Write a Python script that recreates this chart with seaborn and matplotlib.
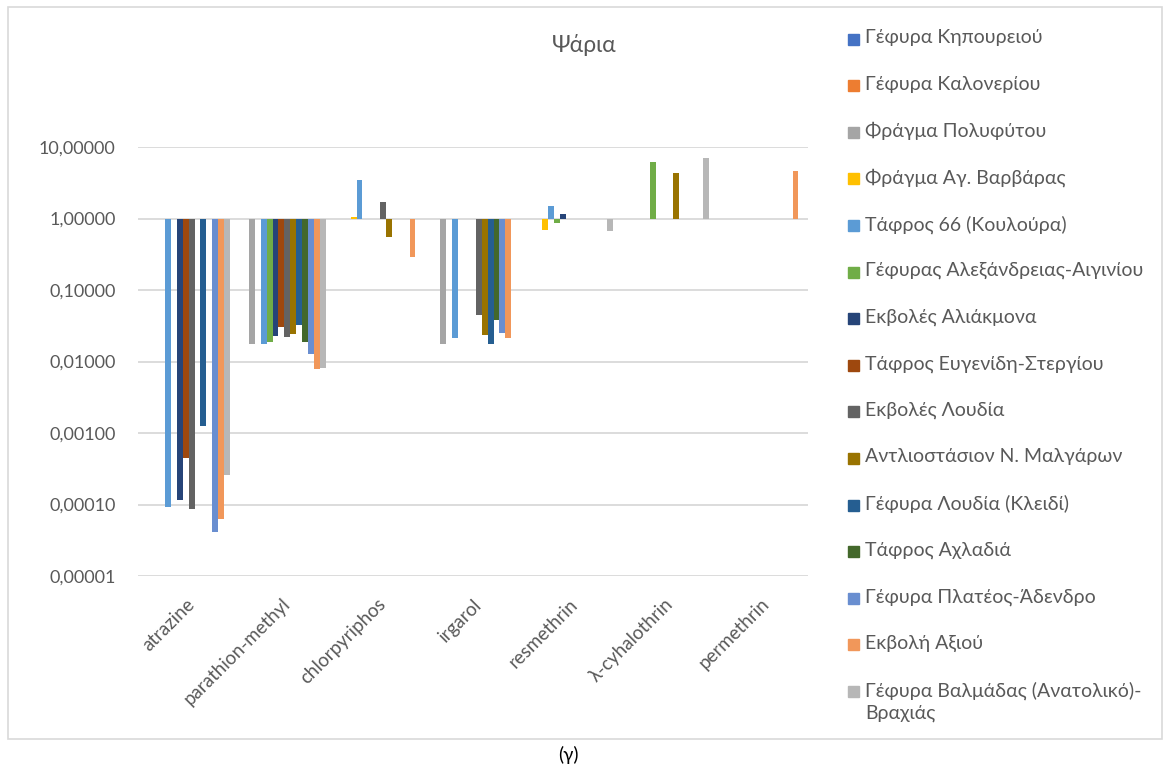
import numpy as np
import pandas as pd
import matplotlib
matplotlib.use("Agg")
import matplotlib.pyplot as plt
from matplotlib.patches import Rectangle
from matplotlib.ticker import NullLocator
import seaborn as sns

# ---- data -------------------------------------------------------------
pesticides = ["atrazine", "parathion-methyl", "chlorpyriphos", "irgarol",
              "resmethrin", "λ-cyhalothrin", "permethrin"]

stations = [
    "Γέφυρα Κηπουρειού",
    "Γέφυρα Καλονερίου",
    "Φράγμα Πολυφύτου",
    "Φράγμα Αγ. Βαρβάρας",
    "Τάφρος 66 (Κουλούρα)",
    "Γέφυρας Αλεξάνδρειας-Αιγινίου",
    "Εκβολές Αλιάκμονα",
    "Τάφρος Ευγενίδη-Στεργίου",
    "Εκβολές Λουδία",
    "Αντλιοστάσιον Ν. Μαλγάρων",
    "Γέφυρα Λουδία (Κλειδί)",
    "Τάφρος Αχλαδιά",
    "Γέφυρα Πλατέος-Άδενδρο",
    "Εκβολή Αξιού",
    "Γέφυρα Βαλμάδας (Ανατολικό)-\nΒραχιάς",
]

nan = np.nan
# one list per station, in the order of `pesticides` (nan = not detected)
kipoureio     = [nan,      nan,    nan,   nan,    nan,   nan,  nan]
kaloneri      = [nan,      nan,    nan,   nan,    nan,   nan,  nan]
polyfyto      = [nan,      0.0178, nan,   0.0175, nan,   nan,  nan]
ag_varvara    = [nan,      nan,    1.05,  nan,    0.69,  nan,  nan]
tafros_66     = [0.000093, 0.0175, 3.40,  0.0216, 1.51,  nan,  nan]
alexandreia   = [nan,      0.0188, nan,   nan,    0.875, 6.20, nan]
aliakmonas    = [0.000115, 0.0226, nan,   nan,    1.16,  nan,  nan]
evgenidi      = [0.00044,  0.0300, nan,   nan,    nan,   nan,  nan]
ekv_loudia    = [0.000087, 0.0220, 1.69,  0.0447, nan,   nan,  nan]
malgara       = [nan,      0.0240, 0.556, 0.0233, nan,   4.30, nan]
gef_loudia    = [0.00126,  0.0320, nan,   0.0175, nan,   nan,  nan]
achladia      = [nan,      0.0185, nan,   0.0380, nan,   nan,  nan]
plateos       = [0.000041, 0.0126, nan,   0.0250, nan,   nan,  nan]
axios         = [0.000063, 0.0078, 0.29,  0.0216, nan,   nan,  4.60]
valmada       = [0.00026,  0.0080, nan,   nan,    0.66,  6.97, nan]

station_values = [kipoureio, kaloneri, polyfyto, ag_varvara, tafros_66,
                  alexandreia, aliakmonas, evgenidi, ekv_loudia, malgara,
                  gef_loudia, achladia, plateos, axios, valmada]

y_ticks = [10, 1, 0.1, 0.01, 0.001, 0.0001, 0.00001]
y_tick_labels = ["10,00000", "1,00000", "0,10000", "0,01000",
                 "0,00100", "0,00010", "0,00001"]

colors = ["#4472C4", "#ED7D31", "#A5A5A5", "#FFC000", "#5B9BD5",
          "#70AD47", "#264478", "#9E480E", "#636363", "#997300",
          "#255E91", "#43682B", "#698ED0", "#F1975A", "#B7B7B7"]

# ---- long table -------------------------------------------------------
rows = []
for st, vals in zip(stations, station_values):
    for pest, v in zip(pesticides, vals):
        rows.append({"pesticide": pest, "station": st, "value": v})
df = pd.DataFrame(rows).dropna()

# ---- figure -----------------------------------------------------------
sns.set_theme(style="white")
plt.rcParams["font.family"] = ["Lato", "Noto Sans", "DejaVu Sans"]
text_grey = "#595959"

W, H = 1163, 773
fig = plt.figure(figsize=(W / 100, H / 100), dpi=100)
ax_l, ax_r, ax_t, ax_b = 137.8, 808.0, 147.0, 576.0
ax = fig.add_axes([ax_l / W, 1 - ax_b / H, (ax_r - ax_l) / W, (ax_b - ax_t) / H])

sns.barplot(data=df, x="pesticide", y="value", hue="station",
            order=pesticides, hue_order=stations, palette=colors,
            saturation=1, width=0.924, gap=0, errorbar=None,
            legend=False, ax=ax)

# bars on a log axis grow from 1 (upwards above 1, downwards below it)
for cont in ax.containers:
    for bar in cont:
        v = bar.get_height()
        if not np.isfinite(v):
            continue
        bar.set_y(min(v, 1.0))
        bar.set_height(abs(v - 1.0))
        bar.set_edgecolor("none")

ax.set_yscale("log")
ax.set_ylim(1e-5, 10)
ax.set_xlim(-0.5, len(pesticides) - 0.5)
ax.set_yticks(y_ticks)
ax.set_yticklabels(y_tick_labels)
ax.yaxis.set_minor_locator(NullLocator())
ax.set_xlabel("")
ax.set_ylabel("")
ax.yaxis.grid(True, color="#D9D9D9", lw=1.3)
ax.xaxis.grid(False)
ax.set_axisbelow(True)
for s in ax.spines.values():
    s.set_visible(False)
ax.tick_params(axis="y", length=0, pad=16, labelsize=13, labelcolor=text_grey)
ax.tick_params(axis="x", length=0, pad=14, labelsize=13.5, labelcolor=text_grey)
for lab in ax.get_xticklabels():
    lab.set_rotation(45)
    lab.set_ha("right")
    lab.set_va("top")
    lab.set_rotation_mode("anchor")

# title
fig.text(584 / W, 1 - 45 / H, "Ψάρια", ha="center", va="center",
         fontsize=16.5, color=text_grey)

# legend
leg_x_box = 848
leg_box = 11
for i, (st, c) in enumerate(zip(stations, colors)):
    yc = 39 + 46.6 * i
    fig.patches.append(Rectangle((leg_x_box / W, 1 - (yc + leg_box / 2) / H),
                                 leg_box / W, leg_box / H,
                                 transform=fig.transFigure, color=c))
    fig.text(865 / W, 1 - (yc - 10) / H, st, ha="left", va="top",
             fontsize=14, color=text_grey, linespacing=1.35)

# chart frame
fig.patches.append(Rectangle((8 / W, 1 - 739 / H), (1162 - 8) / W, (739 - 7) / H,
                             transform=fig.transFigure, fill=False,
                             ec="#D9D9D9", lw=1.2))

fig.text(568 / W, 1 - 755 / H, "(γ)", ha="center", va="center",
         fontsize=13.5, color="black")

fig.savefig("out.png", dpi=100, facecolor="white")
